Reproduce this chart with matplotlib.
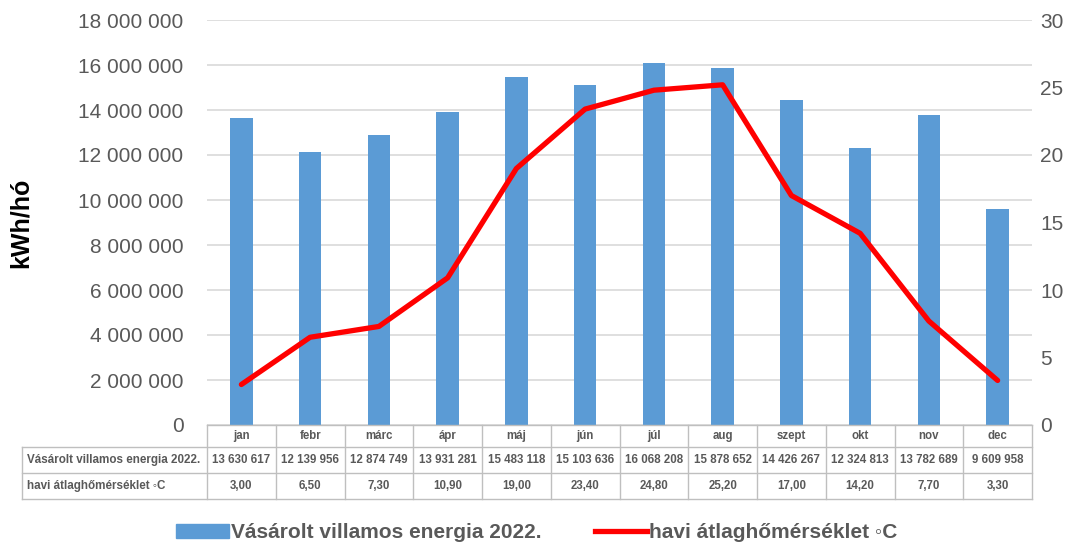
import numpy as np
import matplotlib.pyplot as plt
from matplotlib.transforms import blended_transform_factory
from matplotlib.lines import Line2D
from matplotlib.patches import Patch

plt.rcParams['font.family'] = ['Liberation Sans', 'DejaVu Sans']

months = ['jan', 'febr', 'márc', 'ápr', 'máj', 'jún', 'júl', 'aug', 'szept', 'okt', 'nov', 'dec']
energy = [13630617, 12139956, 12874749, 13931281, 15483118, 15103636,
          16068208, 15878652, 14426267, 12324813, 13782689, 9609958]
temp = [3.00, 6.50, 7.30, 10.90, 19.00, 23.40, 24.80, 25.20, 17.00, 14.20, 7.70, 3.30]

energy_label = 'Vásárolt villamos energia 2022.'
temp_label = 'havi átlaghőmérséklet ◦C'

BLUE = '#5B9BD5'
RED = '#FF0000'
GRAY = '#595959'
GRID = '#D9D9D9'


def fmt_int(v):
    return f'{int(v):,}'.replace(',', ' ')


def fmt_dec(v):
    return f'{v:.2f}'.replace('.', ',')


fig = plt.figure(figsize=(10.83, 5.47), dpi=100)
ax = fig.add_axes([207 / 1083, 1 - 425 / 547, 825 / 1083, 405 / 547])
ax2 = ax.twinx()

x = np.arange(len(months))
ax.bar(x, energy, width=0.33, color=BLUE, zorder=2)
ax2.plot(x, temp, color=RED, linewidth=3.8, solid_capstyle='round', zorder=3)

ax.set_xlim(-0.5, len(months) - 0.5)
ax.set_ylim(0, 18000000)
ax.set_yticks(np.arange(0, 18000001, 2000000))
ax.set_yticklabels([fmt_int(v) for v in np.arange(0, 18000001, 2000000)])
ax2.set_ylim(0, 30)
ax2.set_yticks(np.arange(0, 31, 5))

ax.grid(axis='y', color=GRID, linewidth=1.2, zorder=0)
ax.set_axisbelow(True)
ax.set_xticks([])
for a in (ax, ax2):
    for s in a.spines.values():
        s.set_visible(False)
ax.tick_params(axis='y', length=0, pad=17, labelsize=15, labelcolor=GRAY)
ax2.tick_params(axis='y', length=0, pad=6, labelsize=15, labelcolor=GRAY)

ax.set_ylabel('kWh/hó', fontsize=18, fontweight='bold')
ax.yaxis.set_label_coords((33 - 207) / 825, 0.5)

# data table under the plot
trans = blended_transform_factory(ax.transData, ax.transAxes)
y_rows = [0, -22 / 405, -48 / 405, -74 / 405]
left_lab = (22 - 207) / 825
line_kw = dict(color='#BFBFBF', linewidth=1.0, clip_on=False)

# horizontal lines
ax.plot([-0.5, 11.5], [y_rows[0]] * 2, transform=trans, **line_kw)
for yy in y_rows[1:]:
    ax.plot([left_lab, 1], [yy] * 2, transform=ax.transAxes, **line_kw)
# vertical lines
ax.plot([left_lab, left_lab], [y_rows[1], y_rows[3]], transform=ax.transAxes, **line_kw)
for i in range(len(months) + 1):
    ax.plot([i - 0.5, i - 0.5], [y_rows[0], y_rows[3]], transform=trans, **line_kw)

tkw = dict(ha='center', va='center', fontsize=8.3, fontweight='bold', color=GRAY)
for i, m in enumerate(months):
    ax.text(i, (y_rows[0] + y_rows[1]) / 2, m, transform=trans, **tkw)
    ax.text(i, (y_rows[1] + y_rows[2]) / 2, fmt_int(energy[i]), transform=trans, **tkw)
    ax.text(i, (y_rows[2] + y_rows[3]) / 2, fmt_dec(temp[i]), transform=trans, **tkw)
ax.text(left_lab + 0.006, (y_rows[1] + y_rows[2]) / 2, energy_label, transform=ax.transAxes,
        ha='left', va='center', fontsize=8.4, fontweight='bold', color=GRAY)
ax.text(left_lab + 0.006, (y_rows[2] + y_rows[3]) / 2, temp_label, transform=ax.transAxes,
        ha='left', va='center', fontsize=8.4, fontweight='bold', color=GRAY)

handles = [Patch(color=BLUE), Line2D([], [], color=RED, linewidth=3.8)]
fig.legend(handles, [energy_label, temp_label], loc='center', bbox_to_anchor=(0.496, 0.026),
           ncol=2, frameon=False, prop={'size': 15, 'weight': 'bold'}, labelcolor=GRAY,
           handlelength=2.5, handleheight=0.6, columnspacing=2.6, handletextpad=0.1)

fig.savefig('out.png', dpi=100)
